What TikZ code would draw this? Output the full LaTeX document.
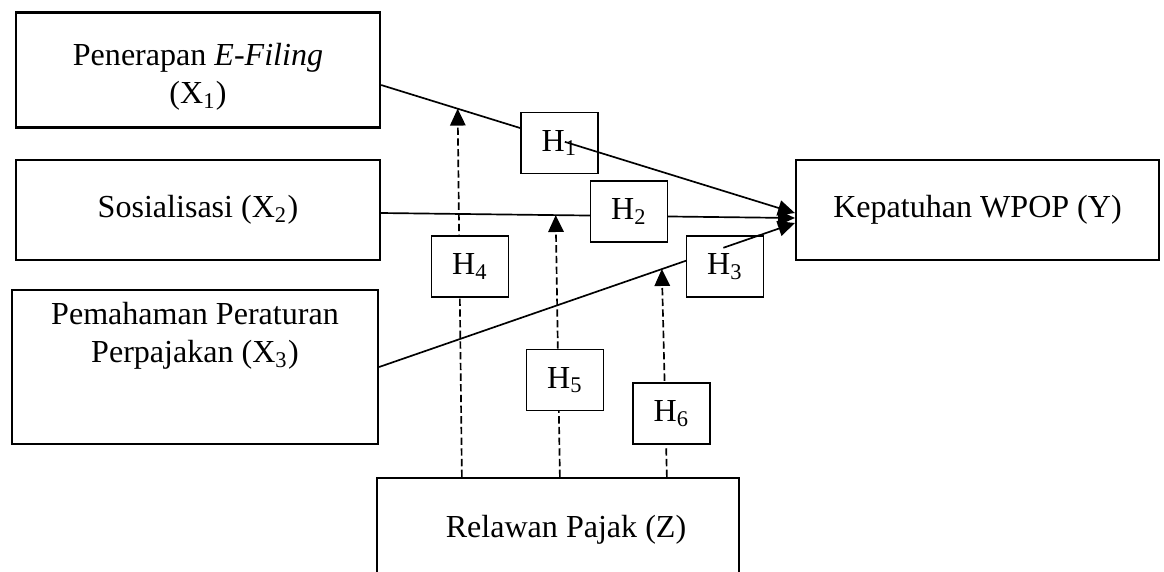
\documentclass[tikz,border=0pt]{standalone}
\usepackage{fontspec}
\setmainfont{Liberation Serif}
\usetikzlibrary{arrows.meta,calc}
\begin{document}
\begin{tikzpicture}[x=0.0125cm,y=-0.0125cm,font=\fontsize{11.4}{13.5}\selectfont,
  var/.style={draw,line width=0.75pt,inner sep=0pt,align=center,minimum width=4.55cm,minimum height=1.25cm},
  hyp/.style={draw,fill=white,line width=0.5pt,inner sep=0pt,minimum width=0.9625cm,minimum height=0.7625cm},
  link/.style={line width=0.6pt,-{Triangle[length=6pt,width=5.5pt]}},
  mod/.style={link,dash pattern=on 2.6pt off 1.2pt}]
\useasboundingbox (0,0) rectangle (1164,571);
\clip (0,0) rectangle (1164,571);
\node[var,minimum height=1.4375cm] (x1) at (198,70) {};
\node[align=center] (x1txt) at (198,77) {Penerapan \textit{E-Filing}\\(X\textsubscript{1})};
\node[var] (x2) at (198,210) {Sosialisasi (X\textsubscript{2})};
\node[var,minimum width=4.575cm,minimum height=1.925cm] (x3) at (195,367) {};
\node[align=center] (x3txt) at (195,336) {Pemahaman Peraturan\\Perpajakan (X\textsubscript{3})};
\node[var,minimum width=4.5375cm] (y) at (977.5,210) {Kepatuhan WPOP (Y)};
\node[var,minimum width=4.525cm,minimum height=1.3cm] (z) at (558,530) {};
\node (ztxt) at (566,530) {Relawan Pajak (Z)};
\coordinate (x1out) at ($(x1.east)+(0,15)$);
\coordinate (x2out) at ($(x2.east)+(0,3)$);
\coordinate (x3out) at (x3.east);
\coordinate (y1) at ($(y.west)+(0,3)$);
\coordinate (y2) at ($(y.west)+(0,8)$);
\coordinate (y3) at ($(y.west)+(0,13)$);
\draw[link] (x1out) -- (y1);
\draw[link] (x2out) -- (y2);
\draw[link] (x3out) -- (y3);
\draw[mod] ($(z.north west)+(86,0)$) -- ($(x1out)!0.185!(y1)$);
\draw[mod] ($(z.north west)+(184,0)$) -- ($(x2out)!0.422!(y2)$);
\draw[mod] ($(z.north west)+(291,0)$) -- ($(x3out)!0.68!(y3)$);
\node[hyp] (h1) at (559.5,143) {H\textsubscript{1}};
\node[hyp] (h2) at (629,211.5) {H\textsubscript{2}};
\node[hyp] (h3) at (725,266.5) {H\textsubscript{3}};
\node[hyp] (h4) at (470,266.5) {H\textsubscript{4}};
\node[hyp] (h5) at (565,380) {H\textsubscript{5}};
\node[hyp] (h6) at (671.5,413.5) {H\textsubscript{6}};
\draw[line width=0.6pt] ($(x1out)!0.444!(y1)$) -- ($(x1out)!0.525!(y1)$);
\draw[line width=0.6pt] ($(x3out)!0.828!(y3)$) -- ($(x3out)!0.915!(y3)$);
\end{tikzpicture}
\end{document}
